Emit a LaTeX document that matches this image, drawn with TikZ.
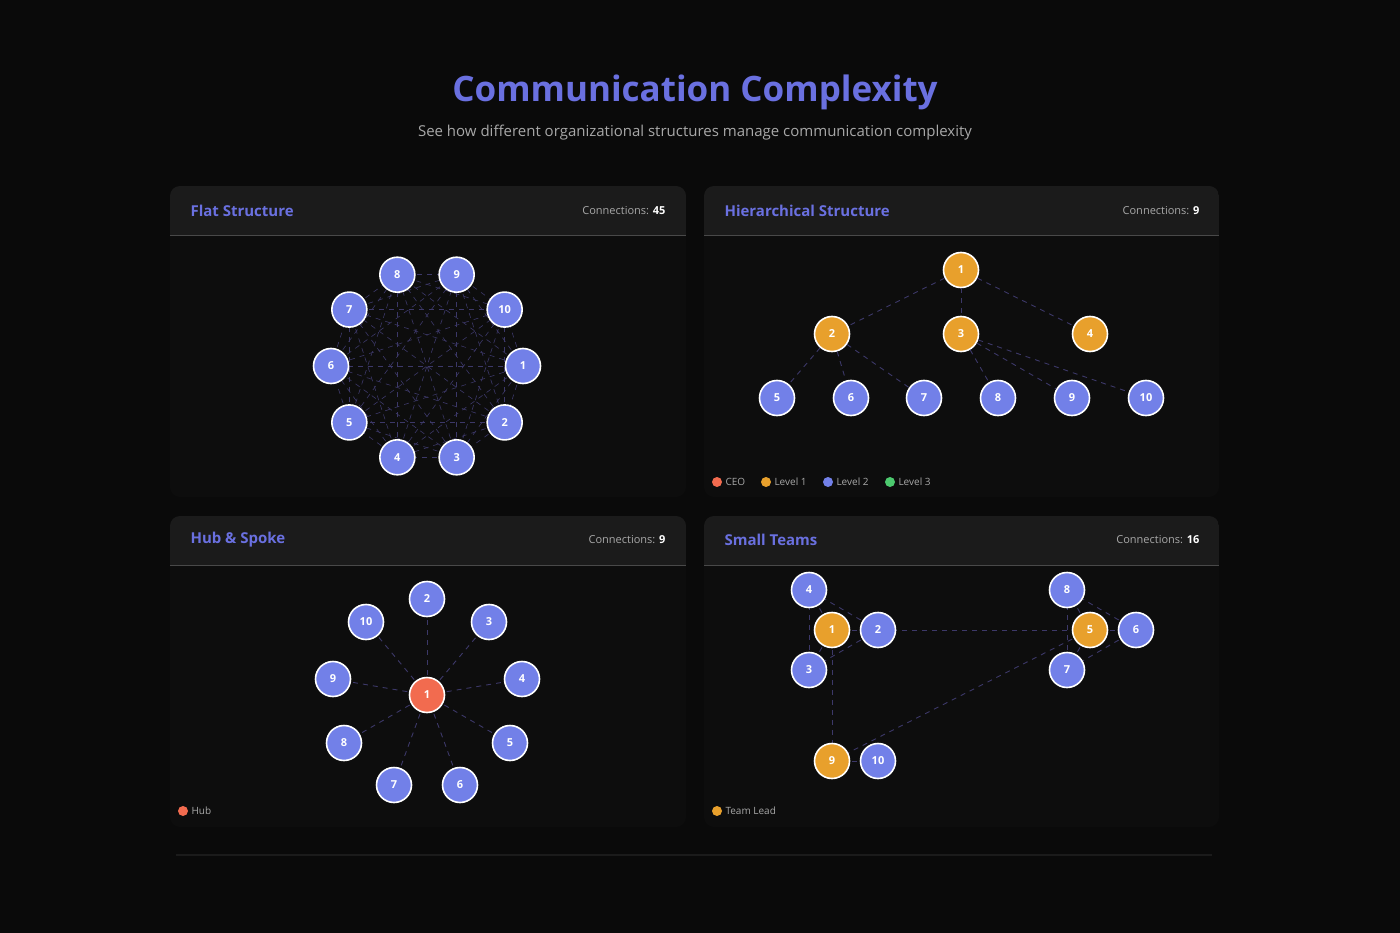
\documentclass[tikz,border=0pt]{standalone}
\usepackage{fontspec}
\setmainfont{Open Sans}
\definecolor{bg}{HTML}{0A0A0A}
\definecolor{panel}{HTML}{0D0D0D}
\definecolor{head}{HTML}{1B1B1B}
\definecolor{blu}{HTML}{7280E8}
\definecolor{org}{HTML}{E8A02C}
\definecolor{hubc}{HTML}{F26B4F}
\definecolor{grn}{HTML}{4CC96E}
\definecolor{ttl}{HTML}{6A70E0}
\definecolor{edge}{HTML}{3C3868}
\definecolor{gry}{HTML}{A8A8A8}
\tikzset{
 nd/.style={circle,draw=white,line width=1.6pt,minimum size=35pt,inner sep=0pt,text=white,font=\fontsize{11}{12}\selectfont\bfseries},
 bn/.style={nd,fill=blu}, on/.style={nd,fill=org}, rn/.style={nd,fill=hubc},
 ed/.style={draw=edge,dashed,line width=0.9pt,dash pattern=on 5pt off 5pt},
 ptitle/.style={anchor=west,text=ttl,font=\fontsize{15}{18}\selectfont\bfseries},
 pconn/.style={anchor=east,text=gry,font=\fontsize{11}{13}\selectfont},
 leg/.style={anchor=west,text=gry,font=\fontsize{10}{12}\selectfont},
 dot/.style={circle,inner sep=0pt,minimum size=10pt}
}
\newcommand{\panelbox}[4]{%
 \fill[panel,rounded corners=10pt] (#1,#2) rectangle (#3,#4);
 \begin{scope}
 \clip[rounded corners=10pt] (#1,#2) rectangle (#3,#4);
 \fill[head] (#1,#2) rectangle (#3,#2+49);
 \draw[color=head!80!white,line width=0.8pt] (#1,#2+49) -- (#3,#2+49);
 \end{scope}}
\begin{document}
\begin{tikzpicture}[x=1pt,y=-1pt]
\fill[bg] (0,0) rectangle (1400,933);
\useasboundingbox (0,0) rectangle (1400,933);
\node[text=ttl,font=\fontsize{35}{40}\selectfont\bfseries] (title) at (695,92) {Communication Complexity};
\node[text=gry,font=\fontsize{15}{18}\selectfont] (sub) at (695,133) {See how different organizational structures manage communication complexity};
\panelbox{170}{186}{686}{497}
\panelbox{704}{186}{1219}{497}
\panelbox{170}{516}{686}{827}
\panelbox{704}{516}{1219}{827}
\draw[color=head,line width=1.5pt] (176,855) -- (1212,855);
% headers
\node[ptitle] (t1) at (187,211) {Flat Structure};
\node[pconn] (c1) at (669,211) {Connections: \textcolor{white}{\bfseries 45}};
\node[ptitle] (t2) at (721,211) {Hierarchical Structure};
\node[pconn] (c2) at (1203,211) {Connections: \textcolor{white}{\bfseries 9}};
\node[ptitle] (t3) at (187,540) {Hub \& Spoke};
\node[pconn] (c3) at (669,540) {Connections: \textcolor{white}{\bfseries 9}};
\node[ptitle] (t4) at (721,540) {Small Teams};
\node[pconn] (c4) at (1203,540) {Connections: \textcolor{white}{\bfseries 16}};
% flat
\foreach \k in {1,...,10}{
 \coordinate (f\k) at ({427+96*cos(36*(\k-1))},{366+96*sin(36*(\k-1))});}
\foreach \a in {1,...,10}{\foreach \b in {1,...,10}{
 \ifnum\a<\b \draw[ed,line width=0.6pt] (f\a) -- (f\b);\fi}}
\foreach \k in {1,...,10}{\node[bn] (F\k) at (f\k) {\k};}
% hierarchical
\node[on] (h1) at (961,270) {1};
\node[on] (h2) at (832,334) {2};
\node[on] (h3) at (961,334) {3};
\node[on] (h4) at (1090,334) {4};
\node[bn] (h5) at (777,398) {5};
\node[bn] (h6) at (851,398) {6};
\node[bn] (h7) at (924,398) {7};
\node[bn] (h8) at (998,398) {8};
\node[bn] (h9) at (1072,398) {9};
\node[bn] (h10) at (1146,398) {10};
\begin{scope}[on background layer/.style={}]
\end{scope}
\foreach \a/\b in {1/2,1/3,1/4,2/5,2/6,2/7,3/8,3/9,3/10}{\draw[ed] (h\a) -- (h\b);}
\node[dot,fill=hubc] (l1) at (717,482) {};
\node[leg] (l1t) at (722,482) {CEO};
\node[dot,fill=org] (l2) at (766,482) {};
\node[leg] (l2t) at (771,482) {Level 1};
\node[dot,fill=blu] (l3) at (828,482) {};
\node[leg] (l3t) at (833,482) {Level 2};
\node[dot,fill=grn] (l4) at (890,482) {};
\node[leg] (l4t) at (895,482) {Level 3};
% hub
\foreach \n/\x/\y in {2/427/599,3/489/622,4/522/679,5/510/743,6/460/785,7/394/785,8/344/743,9/333/679,10/366/622}{
 \coordinate (s\n) at (\x,\y);
 \draw[ed] (427,695) -- (s\n);
 \node[bn] (S\n) at (s\n) {\n};}
\node[rn] (S1) at (427,695) {1};
\node[dot,fill=hubc] (l5) at (183,811) {};
\node[leg] (l5t) at (188,811) {Hub};
% small teams
\coordinate (q1) at (832,630); \coordinate (q2) at (878,630);
\coordinate (q3) at (809,670); \coordinate (q4) at (809,590);
\coordinate (q5) at (1090,630); \coordinate (q6) at (1136,630);
\coordinate (q7) at (1067,670); \coordinate (q8) at (1067,590);
\coordinate (q9) at (832,761); \coordinate (q10) at (878,761);
\foreach \a/\b in {1/2,1/3,1/4,2/3,2/4,3/4,5/6,5/7,5/8,6/7,6/8,7/8,9/10,1/5,1/9,5/9}{\draw[ed] (q\a) -- (q\b);}
\foreach \k in {2,3,4,6,7,8,10}{\node[bn] (Q\k) at (q\k) {\k};}
\foreach \k in {1,5,9}{\node[on] (Q\k) at (q\k) {\k};}
\node[dot,fill=org] (l6) at (717,811) {};
\node[leg] (l6t) at (722,811) {Team Lead};
\end{tikzpicture}
\end{document}
